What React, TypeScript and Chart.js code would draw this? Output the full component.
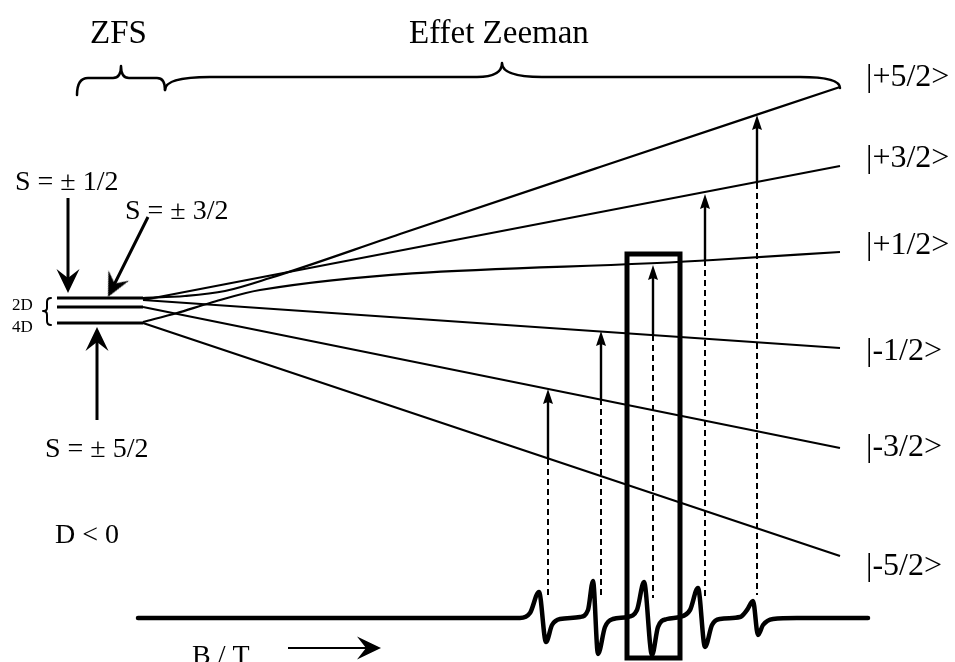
import React, { useEffect, useRef } from "react";
import { Chart, registerables } from "chart.js";
Chart.register(...registerables);

// ---------- DATA (field B and energy E in diagram units; E grows downward) ----------
const zfsField = [57, 143];
const zfsEnergy = [298, 307, 323]; // S = ±1/2, ±3/2, ±5/2 at zero field

const levelLabels = ["|+5/2>", "|+3/2>", "|+1/2>", "|-1/2>", "|-3/2>", "|-5/2>"];
const levelP52Field = [143, 185, 225, 270, 400, 600, 840];
const levelP52Energy = [298, 296, 291, 278, 234, 167, 87];
const levelP32Field = [143, 840];
const levelP32Energy = [300, 166];
const levelP12Field = [143, 177, 210, 260, 713, 840];
const levelP12Energy = [322, 313, 303, 290, 260, 252];
const levelM12Field = [143, 840];
const levelM12Energy = [300, 348];
const levelM32Field = [143, 840];
const levelM32Energy = [307, 448];
const levelM52Field = [143, 840];
const levelM52Energy = [323, 556];
const levelLabelEnergy = [86, 167, 254, 360, 456, 575];

const transitionField = [548, 601, 653, 705, 757];
const transitionLower = [459, 399, 335, 260, 183];
const transitionUpper = [389, 331, 265, 194, 115];
const resonanceEnergy = [598, 598, 598, 597, 595];

const spectrumField = [138, 520, 530, 539, 546, 552, 560, 580, 588, 593, 598, 605, 613, 627, 637, 644, 652, 658, 667, 680, 690, 698, 705, 712, 720, 740, 747, 753, 758, 763, 773, 797, 868];
const spectrumSignal = [618, 618, 613, 592, 642, 625, 619, 617, 610, 581, 654, 627, 619, 617, 610, 582, 655, 627, 619, 617, 610, 588, 647, 625, 619, 617, 610, 601, 635, 625, 619, 618, 618];

const boxField = [627, 680];
const boxEnergy = [254, 658];

const spinLabels = ["S = ± 1/2", "S = ± 3/2", "S = ± 5/2"];
const spinArrowFrom = [[68, 198], [148, 217], [97, 420]];
const spinArrowTo = [[68, 293], [108, 297], [97, 327]];

const fieldArrowFrom = [288, 648];
const fieldArrowTo = [381, 648];

const W = 955;
const H = 662;
const FONT = '"Liberation Serif", "Times New Roman", Times, serif';

function arrowHead(len: number, half: number, notch: number): HTMLCanvasElement {
  const s = Math.ceil(len * 2 + 4);
  const c = document.createElement("canvas");
  c.width = s;
  c.height = s;
  const g = c.getContext("2d")!;
  const cx = s / 2;
  const cy = s / 2;
  g.fillStyle = "#000";
  g.beginPath();
  g.moveTo(cx, cy);
  g.lineTo(cx + half, cy + len);
  g.lineTo(cx, cy + len - notch);
  g.lineTo(cx - half, cy + len);
  g.closePath();
  g.fill();
  return c;
}

function pts(xs: number[], ys: number[]) {
  return xs.map((x, i) => ({ x, y: ys[i] }));
}

function arrowSets(from: number[], to: number[], width: number, head: HTMLCanvasElement, headLen: number) {
  const dx = to[0] - from[0];
  const dy = to[1] - from[1];
  const L = Math.hypot(dx, dy);
  const ux = dx / L;
  const uy = dy / L;
  const rot = (Math.atan2(dx, -dy) * 180) / Math.PI;
  return [
    {
      data: [
        { x: from[0], y: from[1] },
        { x: to[0] - ux * headLen * 0.5, y: to[1] - uy * headLen * 0.5 },
      ],
      showLine: true,
      borderColor: "#000",
      borderWidth: width,
      pointRadius: 0,
    },
    {
      data: [{ x: to[0], y: to[1] }],
      showLine: false,
      pointStyle: head,
      pointRotation: rot,
      pointRadius: 4,
      backgroundColor: "#000",
      borderColor: "#000",
    },
  ];
}

const texts = [
  { t: "ZFS", b: 90, e: 43, s: 33 },
  { t: "Effet Zeeman", b: 409, e: 43, s: 33 },
  { t: spinLabels[0], b: 15, e: 190, s: 28 },
  { t: spinLabels[1], b: 125, e: 219, s: 28 },
  { t: spinLabels[2], b: 45, e: 457, s: 28 },
  { t: "D < 0", b: 55, e: 543, s: 28 },
  { t: "2D", b: 12, e: 310, s: 17 },
  { t: "4D", b: 12, e: 332, s: 17 },
  { t: "B / T", b: 192, e: 664, s: 28 },
  ...levelLabels.map((t, i) => ({ t, b: 866, e: levelLabelEnergy[i], s: 32 })),
];

const annotPlugin = {
  id: "annot",
  afterDraw(chart: any) {
    const { ctx } = chart;
    const X = chart.scales.x;
    const Y = chart.scales.y;
    const px = (v: number) => X.getPixelForValue(v);
    const py = (v: number) => Y.getPixelForValue(v);
    ctx.save();
    ctx.strokeStyle = "#000";
    ctx.fillStyle = "#000";
    ctx.lineCap = "round";
    ctx.lineJoin = "round";

    const brace = (x1: number, xm: number, x2: number, e1: number, e2: number, bar: number, tip: number, r1: number, r2: number, c1: number, c2: number) => {
      ctx.beginPath();
      ctx.moveTo(px(x1), py(e1));
      ctx.quadraticCurveTo(px(x1), py(bar), px(x1 + r1), py(bar));
      ctx.lineTo(px(xm - c1), py(bar));
      ctx.quadraticCurveTo(px(xm), py(bar), px(xm), py(tip));
      ctx.quadraticCurveTo(px(xm), py(bar), px(xm + c2), py(bar));
      ctx.lineTo(px(x2 - r2), py(bar));
      ctx.quadraticCurveTo(px(x2), py(bar), px(x2), py(e2));
      ctx.stroke();
    };
    ctx.lineWidth = 2.5;
    brace(77, 121, 165, 95, 90, 78, 66, 11, 8, 8, 8);
    brace(165, 502, 840, 90, 88, 77, 63, 45, 40, 25, 40);

    // small vertical brace for 2D / 4D
    ctx.lineWidth = 2;
    ctx.beginPath();
    ctx.moveTo(px(51), py(298));
    ctx.quadraticCurveTo(px(47), py(298), px(47), py(302));
    ctx.lineTo(px(47), py(308));
    ctx.quadraticCurveTo(px(47), py(311), px(43), py(311));
    ctx.quadraticCurveTo(px(47), py(311), px(47), py(315));
    ctx.lineTo(px(47), py(321));
    ctx.quadraticCurveTo(px(47), py(325), px(51), py(325));
    ctx.stroke();

    ctx.textAlign = "left";
    ctx.textBaseline = "alphabetic";
    for (const t of texts) {
      ctx.font = `${t.s}px ${FONT}`;
      ctx.fillText(t.t, px(t.b), py(t.e));
    }
    ctx.restore();
  },
};

export default function App() {
  const ref = useRef<HTMLCanvasElement>(null);
  useEffect(() => {
    const bigHead = arrowHead(24, 11.5, 9);
    const smallHead = arrowHead(15, 5, 2);

    const line = (data: any[], width: number, extra: any = {}) => ({
      data,
      showLine: true,
      borderColor: "#000",
      borderWidth: width,
      pointRadius: 0,
      ...extra,
    });

    const datasets: any[] = [];
    datasets.push(
      line(
        [
          { x: (boxField[0] + boxField[1]) / 2, y: boxEnergy[0] },
          { x: boxField[1], y: boxEnergy[0] },
          { x: boxField[1], y: boxEnergy[1] },
          { x: boxField[0], y: boxEnergy[1] },
          { x: boxField[0], y: boxEnergy[0] },
          { x: (boxField[0] + boxField[1]) / 2, y: boxEnergy[0] },
        ],
        5,
        { borderJoinStyle: "miter" }
      )
    );
    zfsEnergy.forEach((e) => datasets.push(line(pts(zfsField, [e, e]), 3)));
    const lv: [number[], number[]][] = [
      [levelP52Field, levelP52Energy],
      [levelP32Field, levelP32Energy],
      [levelP12Field, levelP12Energy],
      [levelM12Field, levelM12Energy],
      [levelM32Field, levelM32Energy],
      [levelM52Field, levelM52Energy],
    ];
    lv.forEach(([f, e]) => datasets.push(line(pts(f, e), 2.2, { cubicInterpolationMode: "monotone" })));
    transitionField.forEach((b, i) => {
      datasets.push(...arrowSets([b, transitionLower[i]], [b, transitionUpper[i]], 2.4, smallHead, 15));
      datasets.push(line(pts([b, b], [transitionLower[i], resonanceEnergy[i]]), 2, { borderDash: [6, 4] }));
    });
    spinArrowFrom.forEach((f, i) => datasets.push(...arrowSets(f, spinArrowTo[i], 3, bigHead, 24)));
    datasets.push(...arrowSets(fieldArrowFrom, fieldArrowTo, 2, bigHead, 24));
    datasets.push(
      line(pts(spectrumField, spectrumSignal), 4.5, {
        cubicInterpolationMode: "monotone",
        borderCapStyle: "round",
        borderJoinStyle: "round",
      })
    );

    const chart = new Chart(ref.current!, {
      type: "scatter",
      data: { datasets },
      options: {
        animation: false,
        responsive: false,
        devicePixelRatio: 1,
        events: [],
        layout: { padding: 0, autoPadding: false },
        plugins: { legend: { display: false }, tooltip: { enabled: false } },
        scales: {
          x: { type: "linear", min: 0, max: W, display: false },
          y: { type: "linear", min: 0, max: H, reverse: true, display: false },
        },
      },
      plugins: [annotPlugin],
    } as any);
    return () => chart.destroy();
  }, []);
  return (
    <div style={{ position: "absolute", left: 0, top: 0, width: W, height: H, background: "#fff" }}>
      <canvas ref={ref} width={W} height={H} style={{ display: "block", width: W, height: H }} />
    </div>
  );
}
